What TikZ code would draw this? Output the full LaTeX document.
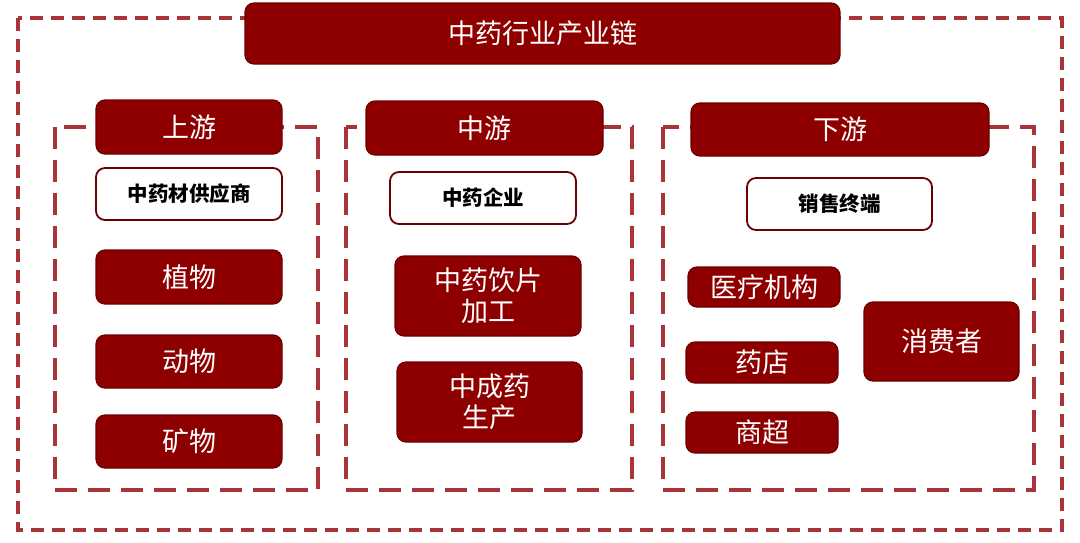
\documentclass[tikz,border=0pt]{standalone}
\usepackage{fontspec}
\newfontfamily\cjk{Noto Sans CJK SC}
\usetikzlibrary{positioning}
\definecolor{chainred}{HTML}{8E0000}
\definecolor{chainedge}{HTML}{6A0000}
\definecolor{chaindash}{HTML}{A8343A}

\tikzset{
  redbox/.style={draw=chainedge,line width=1.2pt,fill=chainred,rounded corners=9pt,
    text=white,align=center,font=\cjk\fontsize{27}{31}\selectfont,inner sep=0pt},
  whitebox/.style={draw=chainedge,line width=1.8pt,fill=white,rounded corners=9pt,
    text=black,align=center,font=\cjk\bfseries\fontsize{20.5}{24}\selectfont,inner sep=0pt},
  chainframe/.style={draw=chaindash,line width=4pt,dash pattern=on 13pt off 8pt},
  stageframe/.style={draw=chaindash,line width=4pt,dash pattern=on 22pt off 11pt}
}

\begin{document}
\begin{tikzpicture}[x=1pt,y=-1pt]
  \useasboundingbox (0,0) rectangle (1080,542);
  % outer frame and title
  \draw[chainframe] (18,18) rectangle (1062,530);
  \node[redbox,minimum width=595pt,minimum height=61pt] (title) at (542.5,33.5) {中药行业产业链};

  % upstream
  \draw[stageframe] (55,127) rectangle (318,490);
  \node[redbox,minimum width=186pt,minimum height=54pt] (up) at (189,127) {上游};
  \node[whitebox,minimum width=186pt,minimum height=52pt] (supplier) at (189,194) {中药材供应商};
  \node[redbox,minimum width=186pt,minimum height=54pt] (plant) at (189,277) {植物};
  \node[redbox,minimum width=186pt,minimum height=53pt] (animal) at (189,361.5) {动物};
  \node[redbox,minimum width=186pt,minimum height=53pt] (mineral) at (189,441.5) {矿物};

  % midstream
  \draw[stageframe] (346,127) rectangle (632,490);
  \node[redbox,minimum width=237pt,minimum height=54pt] (mid) at (484.5,128) {中游};
  \node[whitebox,minimum width=186pt,minimum height=52pt] (firm) at (483,198) {中药企业};
  \node[redbox,minimum width=186pt,minimum height=80pt] (slices) at (488,296) {中药饮片\\加工};
  \node[redbox,minimum width=185pt,minimum height=80pt] (patent) at (489.5,402) {中成药\\生产};

  % downstream
  \draw[stageframe] (663,127) rectangle (1034,490);
  \node[redbox,minimum width=298pt,minimum height=53pt] (down) at (840,129.5) {下游};
  \node[whitebox,minimum width=185pt,minimum height=52pt] (terminal) at (839.5,204) {销售终端};
  \node[redbox,minimum width=152pt,minimum height=40pt] (hospital) at (764,287) {医疗机构};
  \node[redbox,minimum width=152pt,minimum height=41pt] (pharmacy) at (762,362.5) {药店};
  \node[redbox,minimum width=152pt,minimum height=41pt] (market) at (762,432.5) {商超};
  \node[redbox,minimum width=155pt,minimum height=79pt] (consumer) at (941.5,341.5) {消费者};
\end{tikzpicture}
\end{document}
